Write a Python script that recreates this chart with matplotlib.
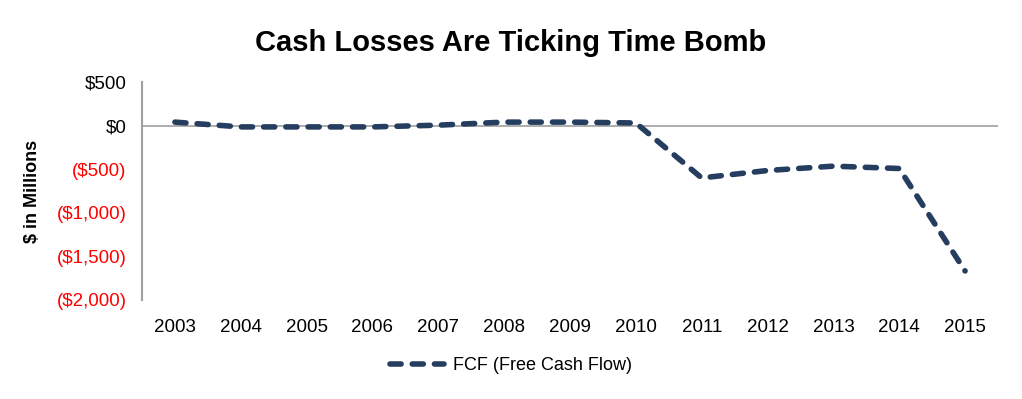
import matplotlib
matplotlib.use("Agg")
import matplotlib.pyplot as plt
from matplotlib.ticker import FuncFormatter

years = [2003, 2004, 2005, 2006, 2007, 2008, 2009, 2010, 2011, 2012, 2013, 2014, 2015]
fcf = [40, -15, -15, -15, 5, 40, 40, 30, -600, -515, -465, -492, -1667]
yticks = [500, 0, -500, -1000, -1500, -2000]

plt.rcParams['font.family'] = ['Liberation Sans', 'DejaVu Sans']

fig = plt.figure(figsize=(10.22, 3.99), dpi=100)
ax = fig.add_axes([142/1022, 1 - 300/399, (998-142)/1022, (300-82)/399])

line_color = '#253d5e'
ln, = ax.plot(range(len(years)), fcf, color=line_color, lw=4,
              linestyle=(0, (2.0, 2.0)), dash_capstyle='round', solid_joinstyle='round',
              label='FCF (Free Cash Flow)')

ax.set_ylim(-2000, 500)
ax.set_xlim(-0.5, len(years) - 0.5)
ax.axhline(0, color='#a0a0a0', lw=1.2, zorder=0)

for s in ['top', 'right', 'bottom']:
    ax.spines[s].set_visible(False)
ax.spines['left'].set_color('#a0a0a0')
ax.spines['left'].set_linewidth(1.5)

ax.set_yticks(yticks)
def fmt(v, p):
    if v < 0:
        return '(${:,.0f})'.format(-v)
    return '${:,.0f}'.format(v)
ax.yaxis.set_major_formatter(FuncFormatter(fmt))
ax.tick_params(axis='y', length=0, pad=11, labelsize=13.5)
for lab, v in zip(ax.get_yticklabels(), yticks):
    lab.set_color('red' if v < 0 else 'black')

ax.set_xticks(range(len(years)))
ax.set_xticklabels([str(y) for y in years])
ax.tick_params(axis='x', length=0, pad=14, labelsize=13.5)

ax.set_ylabel('$ in Millions', fontsize=13, fontweight='bold', labelpad=11)

fig.text(0.5, 1 - 43/399, 'Cash Losses Are Ticking Time Bomb', ha='center', va='center',
         fontsize=21, fontweight='bold')

fig.legend(handles=[ln], loc='center', bbox_to_anchor=(0.5, 1 - 366/399), frameon=False,
           fontsize=13, handlelength=3.0, handletextpad=0.5)

fig.savefig('out.png', dpi=100)
